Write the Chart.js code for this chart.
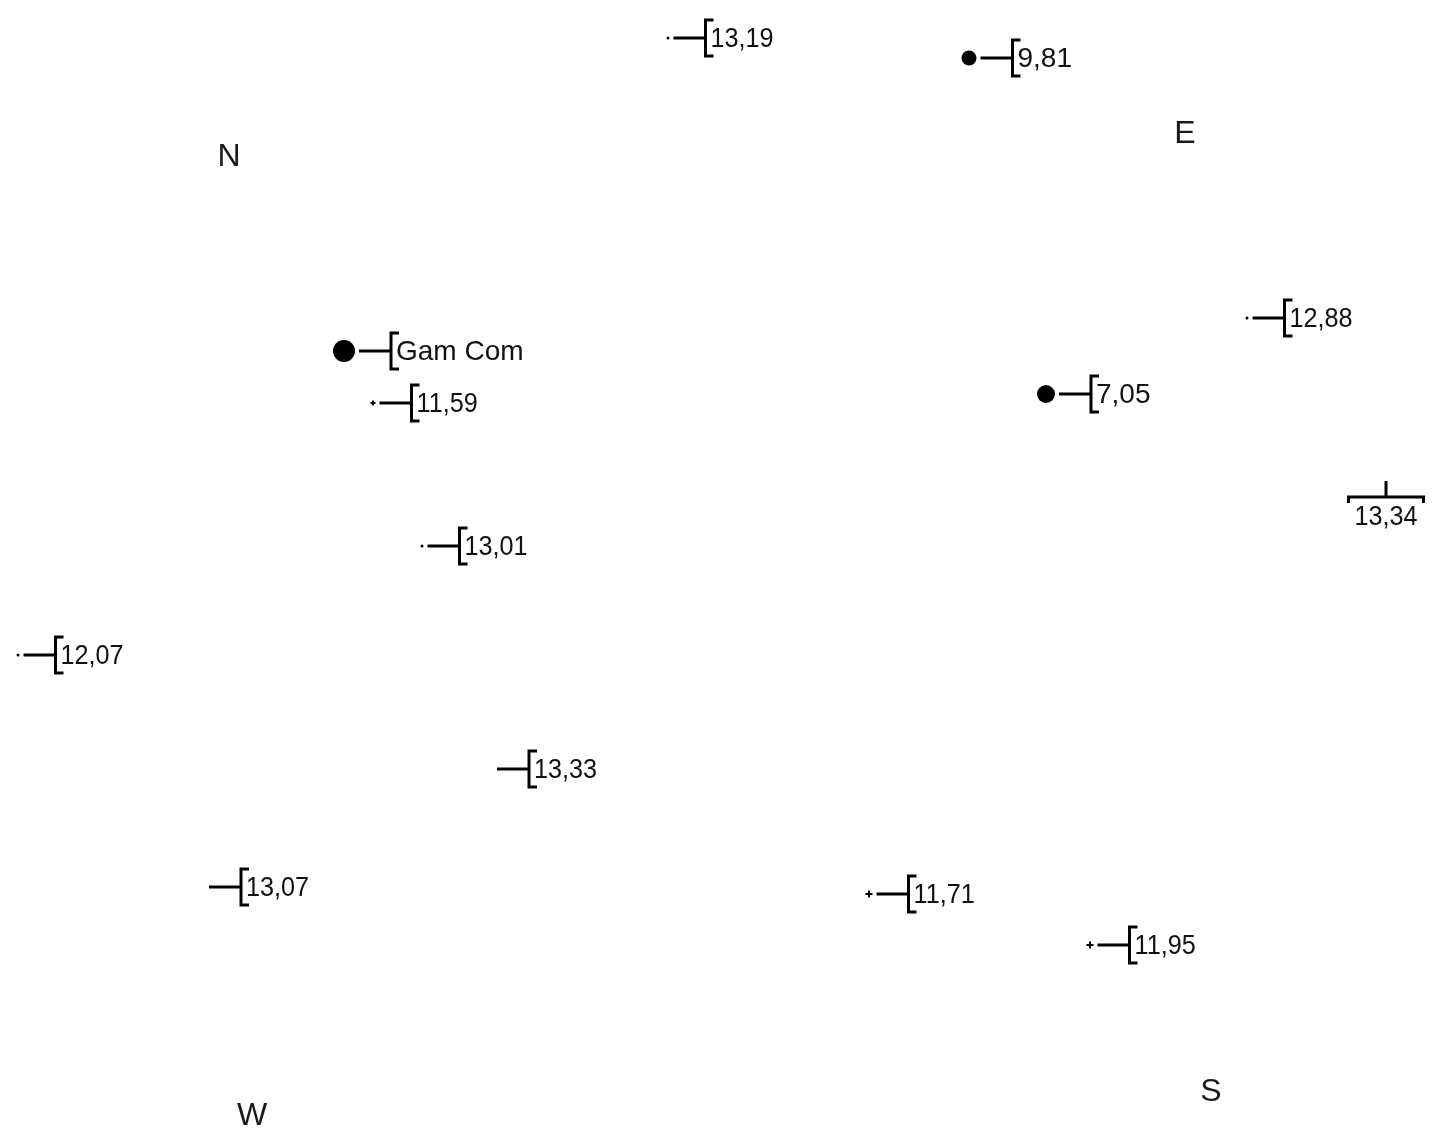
<!DOCTYPE html>
<html>
<head>
<meta charset="utf-8">
<title>Mapa</title>
<script src="https://cdn.jsdelivr.net/npm/chart.js@4.4.1/dist/chart.umd.min.js"></script>
<style>
  html, body { margin: 0; padding: 0; background: #fff; }
  #wrap { width: 1437px; height: 1144px; }
</style>
</head>
<body>
<div id="wrap"><canvas id="myMap" width="1437" height="1144"></canvas></div>
<script>
// puntos del mapa (coordenadas)
const labels = ['13,19', '9,81', 'Gam Com', '11,59', '12,88', '7,05', '13,34', '13,01', '12,07', '13,33', '13,07', '11,71', '11,95'];
const posX   = [668, 969, 344, 373, 1247, 1046, 1386, 422, 18, 493, 205, 869, 1090];
const posY   = [38, 58, 351, 403, 318, 394, 481, 546, 655, 769, 887, 894, 945];
const tamano = [1.5, 7.5, 11, 2.5, 1.5, 9, 0, 1.5, 1.5, 0, 0, 3.5, 3.5];
const tipo   = ['circle', 'circle', 'circle', 'cross', 'circle', 'circle', 'circle', 'circle', 'circle', 'circle', 'circle', 'cross', 'cross'];

// puntos cardinales
const rumbos = ['N', 'E', 'W', 'S'];
const rumboX = [229, 1185, 252, 1211];
const rumboY = [157, 134, 1116, 1092];

document.addEventListener('DOMContentLoaded', function(){
    const ctx = document.getElementById('myMap');

    // dibuja la linea, el corchete y la etiqueta de cada punto
    const etiquetas = {
        id: 'etiquetas',
        afterDatasetsDraw(chart) {
            const c = chart.ctx;
            const area = chart.chartArea;
            c.save();
            c.strokeStyle = '#000';
            c.fillStyle = '#111';
            c.lineWidth = 3;
            c.lineCap = 'butt';

            chart.getDatasetMeta(0).data.forEach((pt, i) => {
                const x = pt.x, y = pt.y;
                const txt = labels[i];
                const esNumero = /^[0-9,]+$/.test(txt) && txt.length > 4;
                c.font = '28px "Liberation Sans", Arial, sans-serif';
                const ancho = c.measureText(txt).width * (esNumero ? 0.9 : 1);
                const ini = x + tamano[i] + 4;
                const bx = x + tamano[i] + 36;

                if (bx + ancho + 8 > area.right) {
                    // no cabe a la derecha: etiqueta debajo
                    const by = y + 16;
                    c.beginPath();
                    c.moveTo(x, y); c.lineTo(x, by);
                    c.stroke();
                    const half = ancho / 2 + 6;
                    c.beginPath();
                    c.moveTo(x - half, by + 6); c.lineTo(x - half, by);
                    c.lineTo(x + half, by); c.lineTo(x + half, by + 6);
                    c.stroke();
                    c.save();
                    c.translate(x, by + 20);
                    c.scale(esNumero ? 0.9 : 1, 1);
                    c.textAlign = 'center';
                    c.textBaseline = 'middle';
                    c.fillText(txt, 0, 0);
                    c.restore();
                    return;
                }

                c.beginPath();
                c.moveTo(ini, y); c.lineTo(bx, y);
                c.stroke();
                c.beginPath();
                c.moveTo(bx + 8, y - 18); c.lineTo(bx, y - 18);
                c.lineTo(bx, y + 18); c.lineTo(bx + 8, y + 18);
                c.stroke();

                c.save();
                c.translate(bx + 5, y + 1);
                c.scale(esNumero ? 0.9 : 1, 1);
                c.textAlign = 'left';
                c.textBaseline = 'middle';
                c.fillText(txt, 0, 0);
                c.restore();
            });

            // letras de los rumbos
            c.font = '32px "Liberation Sans", Arial, sans-serif';
            c.fillStyle = '#1a1a1a';
            c.textAlign = 'center';
            c.textBaseline = 'middle';
            chart.getDatasetMeta(1).data.forEach((pt, i) => {
                c.fillText(rumbos[i], pt.x, pt.y);
            });
            c.restore();
        }
    };

    new Chart(ctx, {
        type: 'scatter',
        data: {
            datasets: [{
                label: 'puntos',
                data: posX.map((x, i) => ({ x: x, y: posY[i] })),
                pointRadius: tamano,
                pointStyle: tipo,
                pointBackgroundColor: '#000',
                pointBorderColor: '#000',
                pointBorderWidth: tipo.map(t => t === 'cross' ? 2 : 0),
                pointHoverRadius: tamano,
                clip: false
            }, {
                label: 'rumbos',
                data: rumboX.map((x, i) => ({ x: x, y: rumboY[i] })),
                pointRadius: 0,
                pointHoverRadius: 0,
                clip: false
            }]
        },
        options: {
            responsive: false,
            animation: false,
            maintainAspectRatio: false,
            layout: { padding: 0, autoPadding: false },
            events: [],
            scales: {
                x: { type: 'linear', min: 0, max: 1437, display: false },
                y: { type: 'linear', min: 0, max: 1144, reverse: true, display: false }
            },
            plugins: {
                legend: { display: false },
                tooltip: { enabled: false }
            }
        },
        plugins: [etiquetas]
    });
});
</script>
</body>
</html>
